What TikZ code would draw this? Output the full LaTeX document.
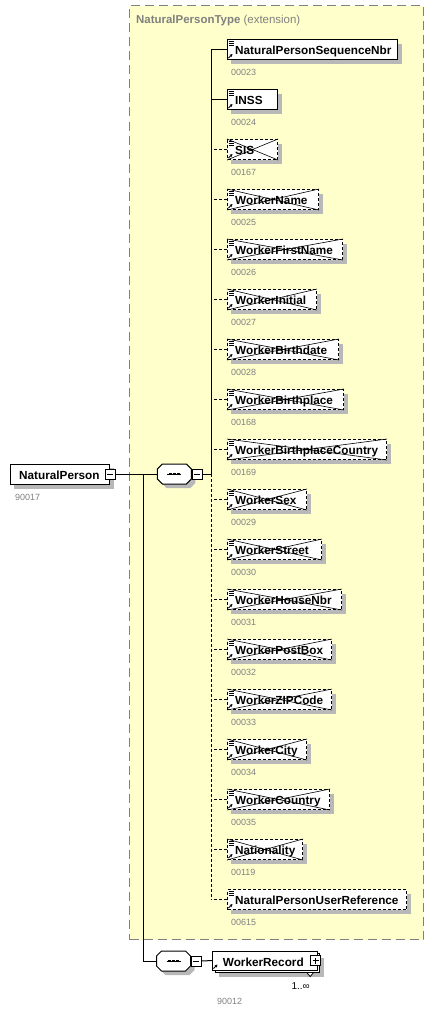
\documentclass[tikz,border=0pt]{standalone}
\usepackage{fontspec}
\setmainfont{Liberation Sans}
\usetikzlibrary{arrows.meta}
\definecolor{bgyellow}{RGB}{255,255,204}
\definecolor{lblgrey}{RGB}{128,128,128}
\definecolor{shadowgrey}{RGB}{184,184,184}
\definecolor{frgrey}{RGB}{128,128,128}
\tikzset{
  ebox/.style={draw=black,line width=1bp,fill=white,minimum height=20bp,inner sep=0pt,anchor=west},
  optline/.style={dash pattern=on 3bp off 2bp},
  etext/.style={font=\fontsize{11.8}{14}\selectfont\bfseries,inner sep=0pt,anchor=base west},
  codetext/.style={font=\fontsize{9}{11}\selectfont,text=lblgrey,inner sep=0pt,anchor=base west},
  conn/.style={line width=1bp},
  xline/.style={line width=0.6bp},
  icon/.style={line width=0.8bp},
  shadowfill/.style={fill=shadowgrey},
  seqsym/.style={draw=none,minimum width=34bp,minimum height=20bp,inner sep=0pt},
  minusbox/.style={draw,line width=1bp,fill=white,minimum size=10bp,inner sep=0pt,
    path picture={\draw[line width=1bp] ([xshift=-3bp]path picture bounding box.center) -- ([xshift=3bp]path picture bounding box.center);}},
  plusbox/.style={draw,line width=1bp,fill=white,minimum size=10bp,inner sep=0pt,
    path picture={\draw[line width=1bp] ([xshift=-3bp]path picture bounding box.center) -- ([xshift=3bp]path picture bounding box.center);
      \draw[line width=1bp] ([yshift=-3bp]path picture bounding box.center) -- ([yshift=3bp]path picture bounding box.center);}},
  ybox/.style={draw=frgrey,line width=1bp,dash pattern=on 9bp off 5bp,fill=bgyellow,inner sep=0pt,anchor=north west},
}
% octagon centred on (#1,#2), 34 x 20
\newcommand\octat[2]{(#1-12,#2-10) -- (#1+12,#2-10) -- (#1+17,#2-5) -- (#1+17,#2+5) -- (#1+12,#2+10) -- (#1-12,#2+10) -- (#1-17,#2+5) -- (#1-17,#2-5) -- cycle}
\newcommand\drawseq[3]{% name, cx, cy
  \fill[shadowfill] \octat{#2+4}{#3+4};
  \node[seqsym] (#1) at (#2,#3) {};
  \filldraw[conn,fill=white] \octat{#2}{#3};
  \draw[conn] ([xshift=-7bp]#1.center) -- ([xshift=7bp]#1.center);
  \foreach \dx in {-4,0,4}{\fill ([xshift=\dx bp]#1.center) +(-1.4,-1.4) rectangle +(1.4,1.4);}
}
\begin{document}
\begin{tikzpicture}[x=1bp,y=-1bp]
\useasboundingbox (0,0) rectangle (436,1013);
\node[ybox,minimum width=294bp,minimum height=934bp] (ext) at (129,5) {};
\node[anchor=base west,inner sep=0pt,text=lblgrey,font=\fontsize{11.5}{14}\selectfont] (title) at (136,23.5) {\textbf{NaturalPersonType} (extension)};
\foreach \i/\nm/\r/\cd/\k in {
 1/NaturalPersonSequenceNbr/397/00023/0,
 2/INSS/277/00024/0,
 3/SIS/277/00167/1,
 4/WorkerName/318/00025/1,
 5/WorkerFirstName/342/00026/1,
 6/WorkerInitial/316/00027/1,
 7/WorkerBirthdate/338/00028/1,
 8/WorkerBirthplace/343/00168/1,
 9/WorkerBirthplaceCountry/386/00169/1,
 10/WorkerSex/306/00029/1,
 11/WorkerStreet/321/00030/1,
 12/WorkerHouseNbr/341/00031/1,
 13/WorkerPostBox/331/00032/1,
 14/WorkerZIPCode/331/00033/1,
 15/WorkerCity/306/00034/1,
 16/WorkerCountry/329/00035/1,
 17/Nationality/302/00119/1,
 18/NaturalPersonUserReference/406/00615/2}
{
 \pgfmathsetmacro\cy{49.5+50*(\i-1)}
 \pgfmathsetmacro\w{\r-227}
 \fill[shadowfill] (231,\cy-6) rectangle (\r+4.5,\cy+14.5);
 \ifnum\k=0
   \node[ebox,minimum width=\w bp] (e\i) at (227,\cy) {};
 \else
   \node[ebox,optline,minimum width=\w bp] (e\i) at (227,\cy) {};
 \fi
 \node[etext] (t\i) at (235,\cy+4.5) {\nm};
 \node[codetext] (c\i) at (231,\cy+25.5) {\cd};
 \draw[icon] (228.5,\cy-8.5) -- ++(5,0) (228.5,\cy-6.5) -- ++(5,0) (228.5,\cy-4.5) -- ++(5,0);
 \draw[icon,-{Stealth[length=3bp,width=3bp]}] (228.5,\cy+8.5) -- ++(4,-4);
 \ifnum\k=1
   \draw[xline] (e\i.north west) -- (e\i.south east) (e\i.south west) -- (e\i.north east);
 \fi
}
\coordinate (spine) at (211,474);
\draw[conn] (spine) -- (spine |- e1.west);
\draw[conn,optline] (spine) -- (spine |- e18.west);
\foreach \i in {1,2} \draw[conn] (e\i.west) -- (e\i.west -| spine);
\foreach \i in {3,...,18} \draw[conn,optline] (e\i.west) -- (e\i.west -| spine);
% root element
\fill[shadowfill] (14,468) rectangle (113.5,488.5);
\node[ebox,minimum width=99bp] (np) at (10,474) {};
\node[etext] (npt) at (19,479) {NaturalPerson};
\node[codetext] (npc) at (15,500) {90017};
\node[minusbox] (npm) at (np.east) {};
% first sequence
\drawseq{seq1}{174.3}{474}
\node[minusbox,anchor=west] (seq1m) at (seq1.east) {};
\draw[conn] (npm.east) -- (seq1.west);
\draw[conn] (seq1m.east) -- (spine);
% second sequence
\coordinate (br) at (143,474);
\drawseq{seq2}{173.5}{961}
\node[minusbox,anchor=west] (seq2m) at (seq2.east) {};
\draw[conn] (br) |- (seq2.west);
% WorkerRecord
\fill[shadowfill] (218.8,957.5) rectangle (323.7,977);
\node[ebox,minimum width=104.4bp,minimum height=19bp] (wrb) at (214.8,963) {};
\node[ebox,minimum width=104.4bp,minimum height=19bp] (wr) at (212.3,960.5) {};
\node[etext] (wrt) at (222.7,966) {WorkerRecord};
\node[plusbox] (wrp) at ([xshift=-2bp]wr.east) {};
\draw[icon,-{Stealth[length=3bp,width=3bp]}] (213.5,968.5) -- ++(4,-4);
\draw[conn] (seq2m.east) -- (wr.west);
\filldraw[line width=0.8bp,fill=white] ([xshift=-13bp]wrb.south east) -- ++(3,3.5) -- ++(3,-3.5);
\node[anchor=base east,inner sep=0pt,font=\fontsize{10}{12}\selectfont] (card) at (310,989) {1..∞};
\node[codetext] (wrc) at (217,1004) {90012};
\end{tikzpicture}
\end{document}
